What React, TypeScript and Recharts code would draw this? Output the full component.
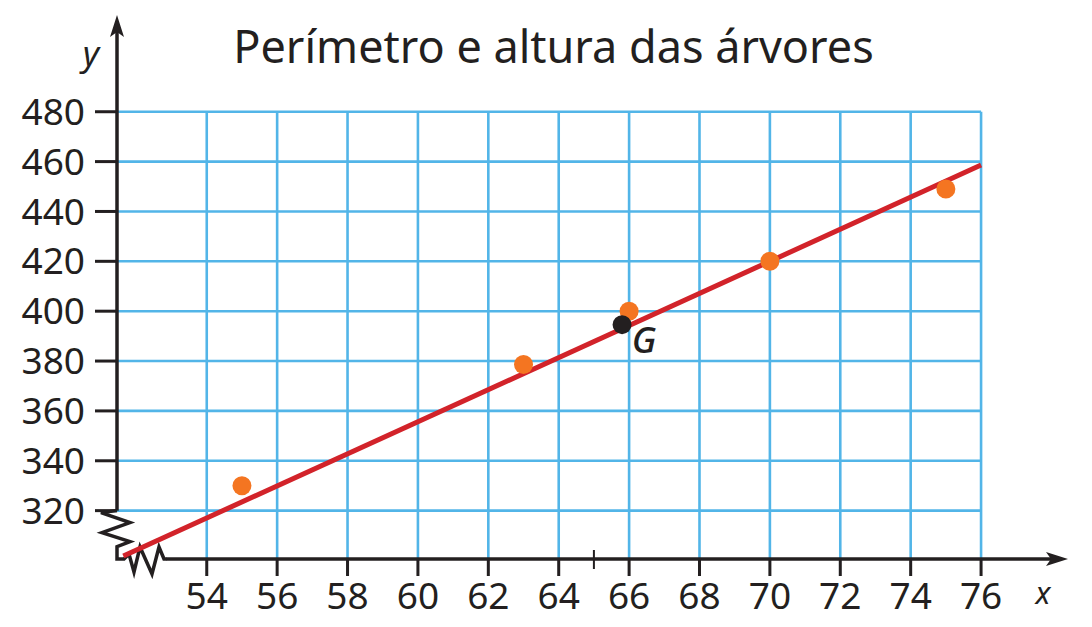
import React from 'react';
import { ScatterChart, Scatter, XAxis, YAxis, ReferenceLine, ReferenceDot } from 'recharts';

// perímetro (cm) e altura (cm) das árvores
const perimetro = [55, 63, 66, 70, 75];
const altura = [330, 378.6, 400, 420, 449];
// ponto G (médias)
const centroX = [65.8];
const centroY = [394.6];
// extremos da reta desenhada
const retaX = [51.63, 76];
const retaY = [301.8, 458.6];

const xTicks = [54, 56, 58, 60, 62, 64, 66, 68, 70, 72, 74, 76];
const yTicks = [320, 340, 360, 380, 400, 420, 440, 460, 480];
const marcaExtra = 65;

const X_MIN = 51.45;
const X_MAX = 78.47;
const Y_MIN = 300.6;
const Y_MAX = 518.8;
const X_QUEBRA = 52.86;

const INK = '#231f20';
const BLUE = '#52b5e8';
const RED = '#d2232a';
const ORANGE = '#f47521';
const FONT = '"Noto Sans", sans-serif';

const TICK_LEN = 17;
const TICK_GAP = 7;

const pontos = perimetro.map((x, i) => ({ x, y: altura[i] }));
const reta = retaX.map((x, i) => ({ x, y: retaY[i] }));
const centro = centroX.map((x, i) => ({ x, y: centroY[i] }));

const arrowHead = (x1: number, y1: number, x2: number, y2: number) => {
  const dx = x2 - x1;
  const dy = y2 - y1;
  const len = Math.hypot(dx, dy) || 1;
  const ux = dx / len;
  const uy = dy / len;
  const L = 22;
  const W = 7;
  const bx = x2 - ux * L;
  const by = y2 - uy * L;
  const nx = x2 - ux * (L - 5);
  const ny = y2 - uy * (L - 5);
  return {
    nx,
    ny,
    points: `${x2},${y2} ${bx - uy * W},${by + ux * W} ${nx},${ny} ${bx + uy * W},${by - ux * W}`,
  };
};

const AxisArrow = (p: any) => {
  const { x1, y1, x2, y2 } = p;
  const h = arrowHead(x1, y1, x2, y2);
  return (
    <g>
      <line x1={x1} y1={y1} x2={h.nx} y2={h.ny} stroke={INK} strokeWidth={3.5} />
      <polygon points={h.points} fill={INK} />
    </g>
  );
};

// eixo x: linha, seta e tracinhos, posicionados pela escala do próprio segmento
const XAxisLine = (p: any) => {
  const { x1, y1, x2, y2 } = p;
  const h = arrowHead(x1, y1, x2, y2);
  const px = (v: number) => x1 + ((v - X_QUEBRA) * (x2 - x1)) / (X_MAX - X_QUEBRA);
  return (
    <g>
      {xTicks.map((v) => (
        <rect key={v} x={px(v) - 1.5} y={y1} width={3} height={TICK_LEN} fill={INK} />
      ))}
      <rect x={px(marcaExtra) - 1} y={y1 - 9} width={2} height={19} fill={INK} />
      <line x1={x1} y1={y1} x2={h.nx} y2={h.ny} stroke={INK} strokeWidth={3.5} />
      <polygon points={h.points} fill={INK} />
    </g>
  );
};

const XTick = (p: any) => {
  const { x, y, payload } = p;
  return (
    <text x={x} y={y} dy="0.71em" textAnchor="middle" fill={INK} fontSize={37} fontFamily={FONT}>
      {payload.value}
    </text>
  );
};

const Quebra = (p: any) => {
  const { x1, y1, x2, y2 } = p;
  const pts = [
    [x1, y1],
    [x1 - 16, y1 + 2],
    [x1 + 13, y1 + 12],
    [x1 - 15, y1 + 22],
    [x1 + 13, y1 + 31],
    [x1, y1 + 36],
    [x2, y2],
    [x2 + 7, y2],
    [x2 + 12, y2 - 5],
    [x2 + 17, y2 + 13],
    [x2 + 23, y2 - 12],
    [x2 + 35, y2 + 15],
    [x2 + 42, y2 - 12],
    [x2 + 47, y2],
    [x2 + 50, y2],
  ];
  return (
    <polyline
      points={pts.map((q) => q.join(',')).join(' ')}
      fill="none"
      stroke={INK}
      strokeWidth={3.5}
      strokeLinejoin="miter"
    />
  );
};

export default function App() {
  return (
    <div style={{ position: 'absolute', left: 0, top: 0, width: 1092, height: 627, background: '#fff' }}>
      <ScatterChart width={1092} height={627} margin={{ top: 15, right: 24, bottom: 0, left: 0 }}>
        <XAxis
          type="number"
          dataKey="x"
          domain={[X_MIN, X_MAX]}
          allowDataOverflow
          ticks={xTicks}
          interval={0}
          axisLine={false}
          tickSize={TICK_LEN}
          tickMargin={TICK_GAP}
          tickLine={false}
          tick={XTick}
          height={68}
        />
        <YAxis
          type="number"
          dataKey="y"
          domain={[Y_MIN, Y_MAX]}
          allowDataOverflow
          ticks={yTicks}
          interval={0}
          axisLine={false}
          tickSize={22}
          tickMargin={10}
          tickLine={{ stroke: INK, strokeWidth: 3 }}
          tick={{ fill: INK, fontSize: 37, fontFamily: FONT }}
          width={117}
        />
        {xTicks.map((v) => (
          <ReferenceLine
            key={`gx-${v}`}
            segment={[{ x: v, y: Y_MIN }, { x: v, y: 480 }]}
            stroke={BLUE}
            strokeWidth={2.6}
            ifOverflow="visible"
          />
        ))}
        {yTicks.map((v) => (
          <ReferenceLine
            key={`gy-${v}`}
            segment={[{ x: X_MIN, y: v }, { x: 76, y: v }]}
            stroke={BLUE}
            strokeWidth={2.6}
            ifOverflow="visible"
          />
        ))}
        <ReferenceLine
          segment={[{ x: X_MIN, y: 320 }, { x: X_MIN, y: Y_MAX }]}
          ifOverflow="visible"
          shape={AxisArrow}
        />
        <ReferenceLine
          segment={[{ x: X_QUEBRA, y: Y_MIN }, { x: X_MAX, y: Y_MIN }]}
          ifOverflow="visible"
          shape={XAxisLine}
        />
        <ReferenceLine
          segment={[{ x: X_MIN, y: 320 }, { x: X_MIN, y: Y_MIN }]}
          ifOverflow="visible"
          shape={Quebra}
        />
        <Scatter
          data={reta}
          fill={RED}
          line={{ stroke: RED, strokeWidth: 5 }}
          shape={() => <g />}
          isAnimationActive={false}
        />
        <Scatter
          data={pontos}
          fill={ORANGE}
          shape={(p: any) => <circle cx={p.cx} cy={p.cy} r={9.5} fill={ORANGE} />}
          isAnimationActive={false}
        />
        <Scatter
          data={centro}
          fill={INK}
          shape={(p: any) => <circle cx={p.cx} cy={p.cy} r={9.5} fill={INK} />}
          isAnimationActive={false}
        />
        <ReferenceDot
          x={centroX[0]}
          y={centroY[0]}
          ifOverflow="visible"
          shape={(p: any) => (
            <text
              x={p.cx + 22}
              y={p.cy + 28}
              textAnchor="middle"
              fill={INK}
              fontFamily={FONT}
              fontStyle="italic"
              fontWeight={500}
              fontSize={36}
            >
              G
            </text>
          )}
        />
      </ScatterChart>
      <svg
        width={1092}
        height={627}
        style={{ position: 'absolute', left: 0, top: 0, pointerEvents: 'none' }}
      >
        <text x={553.5} y={63} textAnchor="middle" fill={INK} fontFamily={FONT} fontSize={45}>
          Perímetro e altura das árvores
        </text>
        <text x={91} y={66} textAnchor="middle" fill={INK} fontFamily={FONT} fontStyle="italic" fontSize={35}>
          y
        </text>
        <text x={1043} y={604} textAnchor="middle" fill={INK} fontFamily={FONT} fontStyle="italic" fontSize={31}>
          x
        </text>
      </svg>
    </div>
  );
}
